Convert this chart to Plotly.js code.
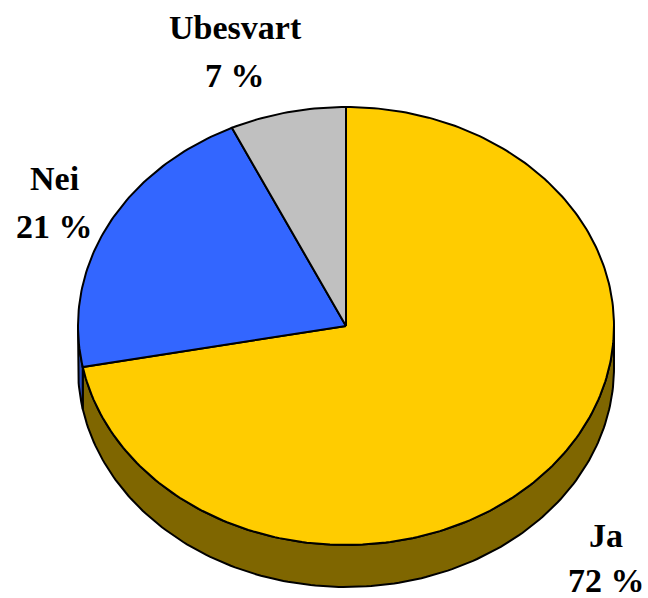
<!DOCTYPE html>
<html>
<head>
<meta charset="utf-8">
<script src="https://cdn.plot.ly/plotly-3.0.1.min.js"></script>
<style>html,body{margin:0;padding:0;background:#fff}#chart{width:648px;height:598px}</style>
</head>
<body>
<div id="chart"></div>
<script>
const labels = ["Ja", "Nei", "Ubesvart"];
const values = [72, 21, 7];
const pctText = ["72 %", "21 %", "7 %"];
const topColors = ["#FFCC00", "#3366FF", "#C0C0C0"];
const sideColors = ["#7F6600", "#2B4FC0", "#808080"];

const cx = 346, cy = 326, rx = 268, ry = 219, depth = 42;

function pt(tDeg, dy) {
  const t = tDeg * Math.PI / 180;
  return [cx + rx * Math.sin(t), cy - ry * Math.cos(t) + dy];
}
function arc(t1, t2, dy) {
  const xs = [], ys = [];
  const n = Math.max(2, Math.ceil(Math.abs(t2 - t1)));
  for (let i = 0; i <= n; i++) {
    const p = pt(t1 + (t2 - t1) * i / n, dy);
    xs.push(p[0]); ys.push(p[1]);
  }
  return [xs, ys];
}

const total = values.reduce((a, b) => a + b, 0);
const traces = [];
const slices = [];
let acc = 0;
values.forEach((v, i) => {
  const t1 = acc / total * 360, t2 = (acc + v) / total * 360;
  slices.push([t1, t2]);
  acc += v;
});

// side walls (front half: 90..270)
slices.forEach(([t1, t2], i) => {
  const a = Math.max(t1, 90), b = Math.min(t2, 270);
  if (b > a) {
    const [tx, ty] = arc(a, b, 0);
    const [bx, by] = arc(b, a, depth);
    traces.push({
      type: "scatter", mode: "lines",
      x: tx.concat(bx, [tx[0]]), y: ty.concat(by, [ty[0]]),
      fill: "toself", fillcolor: sideColors[i],
      line: { color: "#000", width: 2 },
      hoverinfo: "skip", showlegend: false
    });
  }
});

// top slices
slices.forEach(([t1, t2], i) => {
  const [ax, ay] = arc(t1, t2, 0);
  traces.push({
    type: "scatter", mode: "lines",
    x: [cx].concat(ax, [cx]), y: [cy].concat(ay, [cy]),
    fill: "toself", fillcolor: topColors[i],
    line: { color: "#000", width: 2 },
    hoverinfo: "skip", showlegend: false,
    name: labels[i]
  });
});

const font = { family: "Liberation Serif, Times New Roman, serif", size: 34, color: "#000" };
const labelPos = [[606, 535, 580], [54, 178, 226], [235, 27, 75]];
const annotations = [];
labels.forEach((l, i) => {
  const [x, y1, y2] = labelPos[i];
  annotations.push({ x: x, y: y1, xref: "x", yref: "y", text: "<b>" + l + "</b>", showarrow: false, font: font, xanchor: "center", yanchor: "middle" });
  annotations.push({ x: x, y: y2, xref: "x", yref: "y", text: "<b>" + pctText[i] + "</b>", showarrow: false, font: font, xanchor: "center", yanchor: "middle" });
});

const layout = {
  width: 648, height: 598,
  margin: { l: 0, r: 0, t: 0, b: 0 },
  paper_bgcolor: "#fff", plot_bgcolor: "#fff",
  xaxis: { range: [0, 648], visible: false, fixedrange: true },
  yaxis: { range: [598, 0], visible: false, fixedrange: true },
  annotations: annotations,
  showlegend: false
};

Plotly.newPlot("chart", traces, layout, { displayModeBar: false, staticPlot: true });
</script>
</body>
</html>
